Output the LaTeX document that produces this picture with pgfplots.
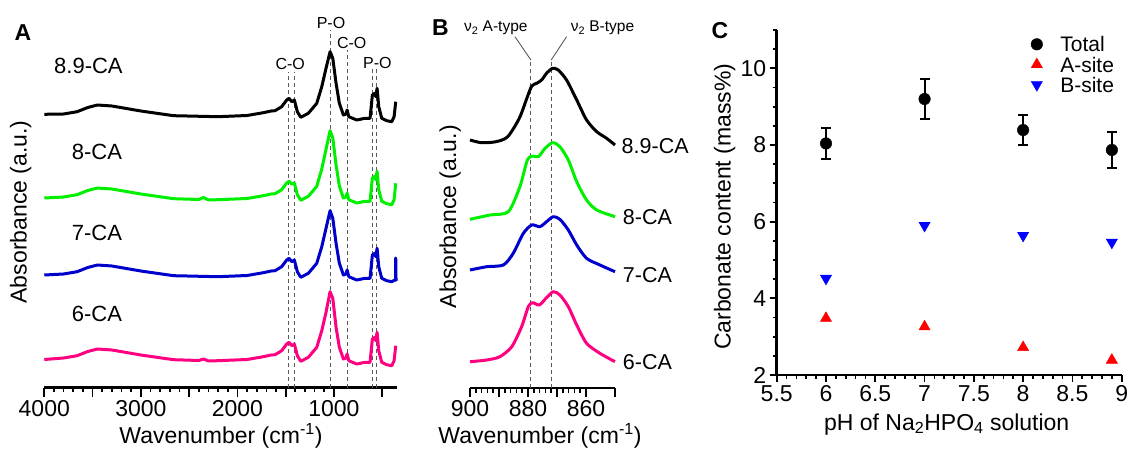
\documentclass[border=0pt]{standalone}
\usepackage{fontspec}
\setmainfont{Liberation Sans}
\usepackage{pgfplots}
\pgfplotsset{compat=1.18}

\definecolor{cgreen}{RGB}{0,240,0}
\definecolor{cblue}{RGB}{0,0,205}
\definecolor{cpink}{RGB}{255,0,128}
\definecolor{dashgray}{RGB}{90,90,90}
\newcommand{\fs}[1]{\fontsize{#1}{#1}\selectfont}

\pgfplotsset{
  panel/.style={
    scale only axis, clip=false,
    axis line style={-, line width=2.7pt},
    tick style={black, line width=1.7pt},
    major tick length=9pt, minor tick length=4.5pt,
    tick align=outside,
    /pgf/number format/assume math mode=true,
    /pgf/number format/1000 sep={},
    ticklabel style={font=\fs{23}},
  },
}
\tikzset{
  spec/.style={no marks, line width=3pt, line join=round},
  guide/.style={dashgray, line width=0.9pt, dash pattern=on 4pt off 3pt},
}

\begin{document}
\begin{tikzpicture}
\useasboundingbox (0pt,0pt) rectangle (1129pt,450pt);

% ---------------- panel A ----------------
\begin{axis}[panel, at={(44.3pt,62.3pt)}, anchor=south west,
  width=352.4pt, height=347.7pt,
  xmin=350, xmax=4000, x dir=reverse, ymin=62.3, ymax=410,
  axis x line*=bottom, axis y line=none,
  xtick={1000,2000,3000,4000}, minor x tick num=9,
  extra x ticks={500,1500,2500,3500}, extra x tick labels={},
]
\draw[guide] (axis cs:1475,62.3) -- (axis cs:1475,378.3);
\draw[guide] (axis cs:1410,62.3) -- (axis cs:1410,378.3);
\draw[guide] (axis cs:1040,62.3) -- (axis cs:1040,420);
\draw[guide] (axis cs:860,62.3) -- (axis cs:860,400);
\draw[guide] (axis cs:598,62.3) -- (axis cs:598,381.7);
\draw[guide] (axis cs:556,62.3) -- (axis cs:556,381.7);

% 8.9-CA
\addplot[spec, black] coordinates {
(4000,335.7)(3800,336)(3660,338.3)(3550,342.5)(3450,345)(3300,344)(3150,341.5)
(3000,339)(2660,334.3)(2200,333.3)(1900,334.5)(1731,337.3)(1650,339)(1610,339.3)
(1541,343.3)(1489,350)(1465,351.7)(1437,348.3)(1410,350)(1379,338.3)(1344,332.7)
(1265,336.7)(1178,346.7)(1126,363.3)(1082,381.7)(1040,398.3)(1012,391.7)(978,366.7)
(944,346.7)(902,335)(874,336)(864,340)(846,333.3)(764,330)(678,331.7)(626,331.7)
(602,355)(577,356.7)(567,353.3)(553,361.7)(536,343.3)(505,331.7)(453,329.3)
(401,328.3)(377,333.3)(360,348.3)};
% 8-CA
\addplot[spec, cgreen] coordinates {
(4000,252)(3800,253)(3660,255.3)(3550,259.5)(3450,262)(3300,261)(3150,258.5)
(3000,256)(2660,251.3)(2400,250.5)(2350,252.5)(2300,250)(2200,250.3)(1900,251.5)
(1731,254.3)(1650,256)(1610,256.3)(1541,260.3)(1489,267)(1465,268.7)(1437,266)
(1410,267)(1379,255.3)(1344,249.7)(1265,253.7)(1178,263.7)(1126,281)(1082,300.7)
(1040,319.3)(1012,312)(978,285)(944,264)(902,252)(874,253)(864,257)(846,250.3)
(764,247)(678,248.7)(626,248.7)(602,272)(577,273.7)(567,270.3)(553,278.7)
(536,260.3)(505,248.7)(453,246.3)(401,245.3)(377,250.3)(360,266.7)};
% 7-CA
\addplot[spec, cblue] coordinates {
(4000,175)(3800,176)(3660,178.3)(3550,182.5)(3450,185)(3300,184)(3150,181.5)
(3000,179)(2660,174.3)(2200,173.3)(1900,174.5)(1731,177.3)(1650,179)(1610,179.3)
(1541,183.3)(1489,190)(1465,191.7)(1437,188.3)(1410,190)(1379,178.3)(1344,172.7)
(1265,176.7)(1178,186.7)(1126,203.3)(1082,221.7)(1040,239.3)(1012,231.7)(978,206.7)
(944,186.7)(902,175)(874,176)(864,180)(846,173.3)(764,170)(678,171.7)(626,171.7)
(602,195)(577,196.7)(567,193.3)(553,201.7)(536,183.3)(505,171.7)(453,169.3)
(401,168.3)(370,170)(362,171)(360,192)(357,170)(350,169)};
% 6-CA
\addplot[spec, cpink] coordinates {
(4000,90.5)(3800,92)(3660,94.3)(3550,98.5)(3450,101)(3300,100)(3150,97.5)
(3000,95)(2660,90.3)(2400,89.5)(2350,91)(2300,89)(2200,89.3)(1900,90.5)
(1731,93.3)(1650,95)(1610,95.3)(1541,99.3)(1489,106)(1465,107.7)(1437,104.3)
(1410,106)(1379,94.3)(1344,88.7)(1265,92.7)(1178,102.7)(1126,119.3)(1082,137.7)
(1040,158.3)(1012,151.7)(978,122.7)(944,102.7)(902,91)(874,92)(864,96)(846,89.3)
(764,86)(678,87.7)(626,87.7)(602,111)(577,112.7)(567,109.3)(553,117.7)
(536,99.3)(505,87.7)(453,85.3)(401,84.3)(377,89.3)(360,104.3)};

\node[anchor=base west, font=\fs{22}] at (axis cs:3934,376) {8.9-CA};
\node[anchor=base west, font=\fs{22}] at (axis cs:3751,290) {8-CA};
\node[anchor=base west, font=\fs{22}] at (axis cs:3751,209.3) {7-CA};
\node[anchor=base west, font=\fs{22}] at (axis cs:3751,128.3) {6-CA};

\node[anchor=base, font=\fs{16}] at (axis cs:1453,380) {C-O};
\node[anchor=base, font=\fs{16}] at (axis cs:1030,421.7) {P-O};
\node[anchor=base, font=\fs{16}] at (axis cs:816,401.7) {C-O};
\node[anchor=base, font=\fs{16}] at (axis cs:550,381.7) {P-O};
\end{axis}

% ---------------- panel B ----------------
\begin{axis}[panel, at={(470pt,62pt)}, anchor=south west,
  width=145pt, height=348pt,
  xmin=850, xmax=900, x dir=reverse, ymin=62, ymax=410,
  axis x line*=bottom, axis y line=none,
  xtick={860,880,900}, minor x tick num=9,
  extra x ticks={850,870,890}, extra x tick labels={},
]
\draw[guide] (axis cs:879,62) -- (axis cs:879,390);
\draw[guide] (axis cs:872,62) -- (axis cs:872,390);
\draw[dashgray, line width=0.9pt] (axis cs:879,390) -- (axis cs:884.5,413.3);
\draw[dashgray, line width=0.9pt] (axis cs:872,390) -- (axis cs:866.7,413.3);

\addplot[spec, smooth, tension=0.45, black] coordinates {
(900,310)(896,307.3)(891,308.3)(887,313.3)(883,331.7)(880.4,351.7)(878.7,364)
(877,366.7)(875.3,370)(873.6,376.7)(871.5,381.7)(869.6,380)(866.7,370)(863.2,350)
(859.8,330)(856.3,318.3)(852.9,311.7)(850,305)};
\addplot[spec, smooth, tension=0.45, cgreen] coordinates {
(900,230.7)(893.1,235)(886.8,238.3)(882.8,263.3)(880.2,290)(878.2,294)(876.4,293.3)
(874.1,301.7)(871.5,307.3)(869,303.3)(866.1,290)(863.2,268.3)(859.8,250)(856.3,240)
(850,233.3)};
\addplot[spec, smooth, tension=0.45, cblue] coordinates {
(900,180)(894.2,183.3)(888.5,185)(885.1,196.7)(881.6,216.7)(878.7,225)(875.9,223.3)
(873.6,228.3)(871.3,233.3)(869,230.7)(866.1,220)(863.2,205)(859.8,191.7)(855.2,185)
(850,178.3)};
\addplot[spec, smooth, tension=0.45, cpink] coordinates {
(900,88.3)(894.2,90)(889.7,93.3)(885.6,103.3)(882.2,123.3)(879.9,143.3)(878.4,147.3)
(876.1,145)(873.8,151.7)(871.3,158.3)(869,155)(866.1,143.3)(863.2,125)(859.8,106.7)
(855.2,96.7)(850,88.3)};

\node[anchor=base west, font=\fs{21.5}] at (axis cs:848.9,296.7) {8.9-CA};
\node[anchor=base west, font=\fs{21.5}] at (axis cs:848.5,225) {8-CA};
\node[anchor=base west, font=\fs{21.5}] at (axis cs:848.5,167.3) {7-CA};
\node[anchor=base west, font=\fs{21.5}] at (axis cs:848.5,80.7) {6-CA};
\end{axis}

% ---------------- panel C ----------------
\begin{axis}[panel, at={(776.7pt,75pt)}, anchor=south west,
  width=345pt, height=345pt,
  xmin=5.5, xmax=9, ymin=2, ymax=11,
  axis x line*=bottom, axis y line*=left,
  major tick length=7pt, minor tick length=4pt,
  xtick={5.5,6,6.5,7,7.5,8,8.5,9}, minor x tick num=4,
  ytick={2,4,6,8,10}, minor y tick num=3,
  extra y ticks={10.5,11}, extra y tick labels={},
  extra y tick style={major tick length=4pt},
  legend style={draw=none, fill=none, at={(axis cs:9,11)}, anchor=north east,
    xshift=-3pt, yshift=-3pt, font=\fs{21}, row sep=2pt,
    nodes={inner sep=1.5pt, text depth=0pt}},
  legend cell align=left,
  legend image code/.code={\path[draw=none, fill=none] (-7pt,0pt) -- (22pt,0pt);
    \draw[#1] plot coordinates {(0pt,0pt)};},
]
\addplot[only marks, mark=*, mark size=5.8pt, black,
  error bars/.cd, y dir=both, y explicit,
  error bar style={line width=2pt, black},
  error mark options={rotate=90, mark size=5pt, line width=2pt, black}]
  coordinates {(6,8.04) +- (0,0.40) (7,9.20) +- (0,0.52)
               (8,8.39) +- (0,0.38) (8.9,7.87) +- (0,0.48)};
\addlegendentry{Total}
\addplot[only marks, mark=triangle*, mark size=6.5pt, color=red]
  coordinates {(6,3.48) (7,3.26) (8,2.72) (8.9,2.39)};
\addlegendentry{A-site}
\addplot[only marks, mark=triangle*, mark size=6.5pt, color=blue,
  mark options={rotate=180}]
  coordinates {(6,4.52) (7,5.90) (8,5.64) (8.9,5.46)};
\addlegendentry{B-site}
\end{axis}

% ---------------- labels ----------------
\node[anchor=base, font=\bfseries\fs{23}] at (23pt,409pt) {A};
\node[anchor=base, font=\bfseries\fs{23}] at (440.5pt,414pt) {B};
\node[anchor=base, font=\bfseries\fs{23}] at (720pt,411pt) {C};

\node[anchor=base, rotate=90, font=\fs{23}] at (26.7pt,238pt) {Absorbance (a.u.)};
\node[anchor=base, rotate=90, font=\fs{23}] at (456pt,233.3pt) {Absorbance (a.u.)};
\node[anchor=base, rotate=90, font=\fs{23}] at (730.7pt,243.3pt) {Carbonate content (mass\%)};

\node[anchor=base, font=\fs{23}] at (221pt,6.7pt) {Wavenumber (cm\textsuperscript{-1})};
\node[anchor=base, font=\fs{23}] at (540pt,6.7pt) {Wavenumber (cm\textsuperscript{-1})};
\node[anchor=base, font=\fs{23}] at (946.7pt,20pt) {pH of Na\textsubscript{2}HPO\textsubscript{4} solution};

\node[anchor=base, font=\fs{15.5}] at (495.8pt,418.3pt) {ν\textsubscript{2} A-type};
\node[anchor=base, font=\fs{15.5}] at (602.5pt,418.3pt) {ν\textsubscript{2} B-type};
\end{tikzpicture}
\end{document}
